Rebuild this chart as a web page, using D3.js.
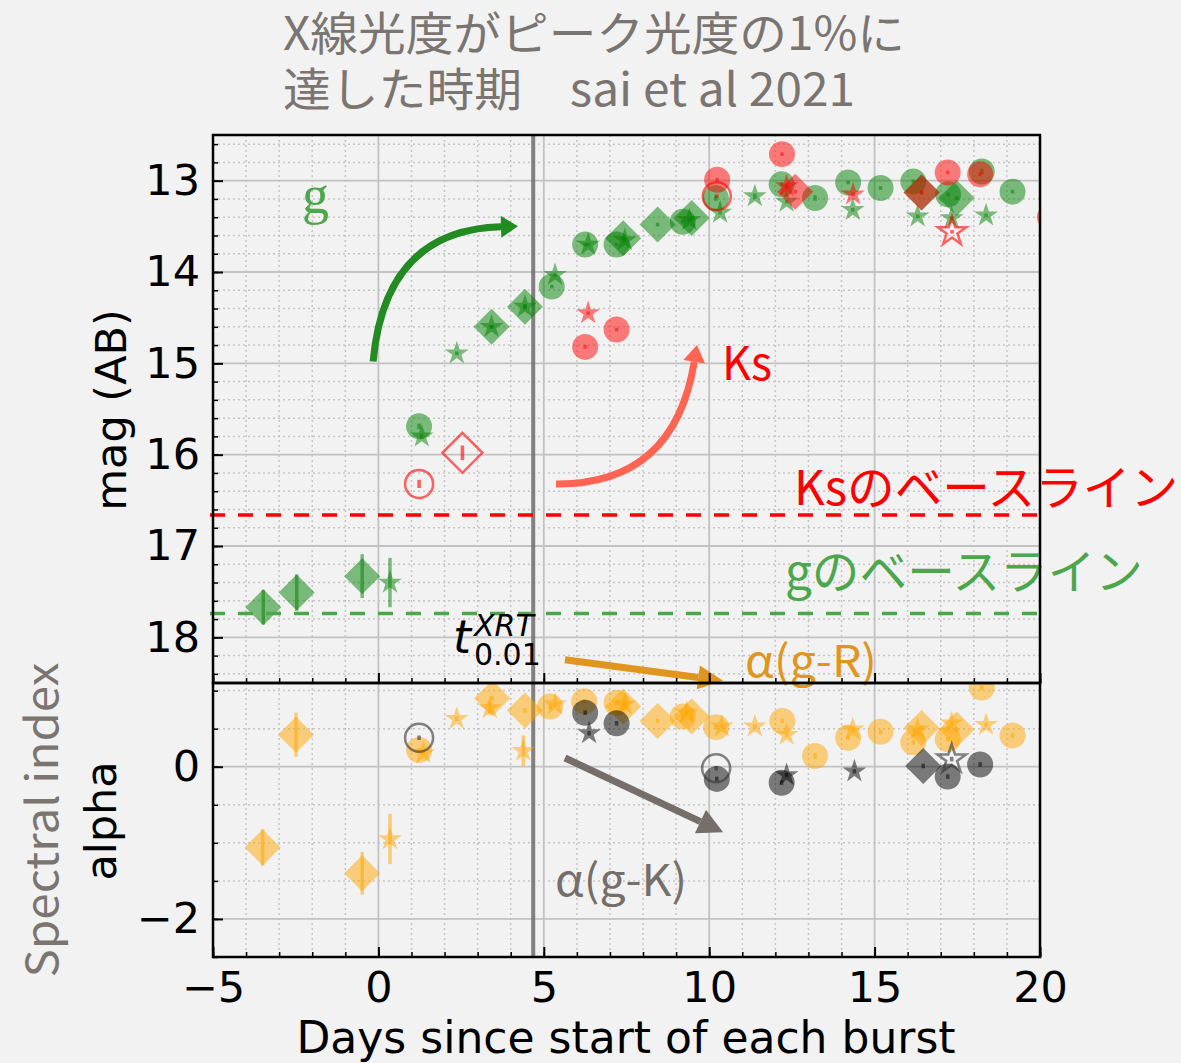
<!DOCTYPE html>
<html>
<head>
<meta charset="utf-8">
<script src="https://cdn.jsdelivr.net/npm/d3@7"></script>
<style>
  body { margin: 0; background: #f2f2f2; }
  svg { display: block; }
</style>
</head>
<body>
<svg id="chart" width="1181" height="1063"></svg>
<script>
// ---- data: [day, value, error] ----
// top panel: magnitudes (AB)
const gCircle = [[1.23, 15.69, 0.03], [5.24, 14.16, 0.02], [6.25, 13.70, 0.02], [7.2, 13.70, 0.02], [9.2, 13.45, 0.02],
  [10.2, 13.19, 0.03], [12.19, 13.04, 0.02], [13.2, 13.19, 0.03], [14.2, 13.02, 0.02], [15.18, 13.08, 0.02],
  [16.17, 13.01, 0.02], [17.22, 13.15, 0.02], [18.24, 12.90, 0.03], [19.17, 13.12, 0.02]];
const gStar = [[0.35, 17.40, 0.27], [1.31, 15.80, 0.03], [2.37, 14.89, 0.02], [3.42, 14.60, 0.02], [4.43, 14.38, 0.03],
  [5.34, 14.03, 0.02], [6.34, 13.70, 0.02], [7.45, 13.65, 0.02], [9.4, 13.43, 0.02], [10.33, 13.35, 0.02],
  [11.38, 13.17, 0.03], [12.34, 13.23, 0.02], [14.34, 13.32, 0.02], [16.3, 13.39, 0.02], [17.33, 13.41, 0.02],
  [18.37, 13.38, 0.02]];
const gDiamond = [[-3.48, 17.67, 0.19], [-2.47, 17.51, 0.20], [-0.49, 17.33, 0.24], [3.42, 14.60, 0.02],
  [4.43, 14.38, 0.02], [7.4, 13.63, 0.02], [8.44, 13.48, 0.02], [9.47, 13.41, 0.02], [16.42, 13.13, 0.02],
  [17.48, 13.19, 0.02]];
const ksCircle = [[6.25, 14.82, 0.02], [7.2, 14.63, 0.02], [10.24, 12.99, 0.02], [12.2, 12.71, 0.02],
  [17.21, 12.91, 0.02], [18.19, 12.93, 0.02], [20.3, 13.40, 0.02]];
const ksStar = [[6.34, 14.45, 0.02], [12.34, 13.06, 0.03], [14.35, 13.15, 0.02]];
const ksDiamond = [[12.6, 13.12, 0.02], [16.42, 13.13, 0.02]];
const ksCircleOpen = [[1.23, 16.32, 0.045], [10.23, 13.17, 0.02]];
const ksDiamondOpen = [[2.54, 15.98, 0.08]];
const ksStarOpen = [[17.34, 13.56, 0.02]];
const gBaseline = 17.74;
const ksBaseline = 16.66;
const tXrt = 4.68;

// bottom panel: spectral index alpha
const grCircle = [[1.23, 0.22, 0.03], [5.19, 0.79, 0.03], [6.22, 0.86, 0.03], [7.2, 0.84, 0.03], [9.2, 0.66, 0.03],
  [10.21, 0.52, 0.03], [12.21, 0.60, 0.03], [13.2, 0.14, 0.04], [14.2, 0.38, 0.03], [15.18, 0.46, 0.03],
  [16.17, 0.32, 0.03], [17.21, 0.36, 0.03], [18.24, 1.04, 0.03], [19.17, 0.41, 0.03]];
const grStar = [[0.35, -0.95, 0.33], [1.36, 0.18, 0.03], [2.37, 0.63, 0.03], [3.37, 0.77, 0.08], [4.38, 0.21, 0.2],
  [5.34, 0.82, 0.03], [7.45, 0.82, 0.03], [9.32, 0.71, 0.03], [10.38, 0.53, 0.03], [11.38, 0.53, 0.03],
  [12.34, 0.42, 0.03], [14.34, 0.49, 0.03], [16.3, 0.49, 0.03], [17.33, 0.57, 0.03], [18.37, 0.55, 0.03]];
const grDiamond = [[-3.5, -1.06, 0.24], [-2.49, 0.42, 0.29], [-0.49, -1.40, 0.28], [3.44, 0.90, 0.03],
  [4.43, 0.74, 0.03], [7.4, 0.79, 0.03], [8.44, 0.60, 0.03], [9.47, 0.66, 0.03], [16.42, 0.51, 0.03],
  [17.48, 0.49, 0.03]];
const gkCircle = [[6.25, 0.71, 0.03], [7.2, 0.57, 0.03], [10.23, -0.16, 0.03], [12.19, -0.21, 0.03],
  [17.21, -0.13, 0.03], [18.19, 0.03, 0.03]];
const gkStar = [[6.37, 0.44, 0.03], [12.34, -0.11, 0.03], [14.39, -0.06, 0.03]];
const gkDiamond = [[16.47, 0.01, 0.03]];
const gkCircleOpen = [[1.23, 0.38, 0.03], [10.21, -0.02, 0.03]];
const gkStarOpen = [[17.33, 0.10, 0.03]];

const xTicks = [-5, 0, 5, 10, 15, 20];
const magTicks = [13, 14, 15, 16, 17, 18];
const alphaTicks = [-2, 0];

// ---- layout ----
const svg = d3.select("#chart");
const pLeft = 213, pRight = 1040, pTop = 135, pMid = 683, pBottom = 957;

const x = d3.scaleLinear().domain([-5, 20]).range([pLeft, pRight]);
const yMag = d3.scaleLinear().domain([12.5, 18.5]).range([pTop, pMid]);
const yAlpha = d3.scaleLinear().domain([-2.5, 1.1]).range([pBottom, pMid]);

svg.append("rect").attr("width", 1181).attr("height", 1063).attr("fill", "#f2f2f2");

const defs = svg.append("defs");
defs.append("clipPath").attr("id", "clipTop").append("rect")
  .attr("x", pLeft).attr("y", pTop).attr("width", pRight - pLeft).attr("height", pMid - pTop);
defs.append("clipPath").attr("id", "clipBot").append("rect")
  .attr("x", pLeft).attr("y", pMid).attr("width", pRight - pLeft).attr("height", pBottom - pMid);

const stepRange = (a, b, s) => d3.range(Math.round(a / s), Math.round(b / s) + 1).map(i => +(i * s).toFixed(3));
const xMinor = stepRange(-5, 20, 1);
const magMinor = stepRange(12.6, 18.4, 0.2);
const alphaMinor = stepRange(-2.5, 1.0, 0.5);

// grid lines for one panel
function drawGrid(yScale, yMajor, yMinor, y0, y1) {
  const g = svg.append("g");
  const vLines = (vals, cls) => g.selectAll("." + cls).data(vals).enter().append("line").attr("class", cls)
    .attr("x1", d => x(d)).attr("x2", d => x(d)).attr("y1", y0).attr("y2", y1);
  const hLines = (vals, cls) => g.selectAll("." + cls).data(vals).enter().append("line").attr("class", cls)
    .attr("x1", pLeft).attr("x2", pRight).attr("y1", d => yScale(d)).attr("y2", d => yScale(d));
  const dotted = sel => sel.attr("stroke", "#c6c6c6").attr("stroke-width", 1.5).attr("stroke-dasharray", "2,3");
  const solid = sel => sel.attr("stroke", "#c2c2c2").attr("stroke-width", 1.8);
  dotted(vLines(xMinor.filter(d => !xTicks.includes(d)), "vmin"));
  dotted(hLines(yMinor.filter(d => !yMajor.includes(d)), "hmin"));
  solid(vLines(xTicks.slice(1, -1), "vmaj"));
  solid(hLines(yMajor, "hmaj"));
}
drawGrid(yMag, magTicks, magMinor, pTop, pMid);
drawGrid(yAlpha, alphaTicks, alphaMinor, pMid, pBottom);

// t_0.01 vertical line across both panels
svg.append("line")
  .attr("x1", x(tXrt)).attr("x2", x(tXrt)).attr("y1", pTop).attr("y2", pBottom)
  .attr("stroke", "#6e6e6e").attr("stroke-width", 4).attr("opacity", 0.85);

// marker shapes
function starPath(r) {
  const pts = d3.range(10).map(i => {
    const a = -Math.PI / 2 + i * Math.PI / 5;
    const rr = i % 2 ? r * 0.382 : r;
    return [rr * Math.cos(a), rr * Math.sin(a)];
  });
  return "M" + pts.map(p => p.join(",")).join("L") + "Z";
}
const diamondPath = h => `M0,${-h}L${h},0L0,${h}L${-h},0Z`;
const circlePath = r => `M${r},0A${r},${r} 0 1,1 ${-r},0A${r},${r} 0 1,1 ${r},0Z`;

function drawSeries(layer, data, yScale, shape, color, hollow) {
  const g = layer.append("g");
  g.selectAll(".err").data(data).enter().append("line")
    .attr("x1", d => x(d[0])).attr("x2", d => x(d[0]))
    .attr("y1", d => yScale(d[1] - d[2])).attr("y2", d => yScale(d[1] + d[2]))
    .attr("stroke", color).attr("stroke-width", 3.5).attr("opacity", hollow ? 0.6 : 0.5);
  let path;
  if (shape === "circle") path = hollow ? circlePath(14) : circlePath(13);
  else if (shape === "star") path = hollow ? starPath(15) : starPath(12.5);
  else path = hollow ? diamondPath(20) : diamondPath(18);
  g.selectAll(".mk").data(data).enter().append("path")
    .attr("transform", d => `translate(${x(d[0])},${yScale(d[1])})`)
    .attr("d", path)
    .attr("fill", hollow ? "none" : color)
    .attr("fill-opacity", 0.5)
    .attr("stroke", color)
    .attr("stroke-opacity", hollow ? 0.6 : 0)
    .attr("stroke-width", hollow ? 2.5 : 0);
}

const topLayer = svg.append("g").attr("clip-path", "url(#clipTop)");
const botLayer = svg.append("g").attr("clip-path", "url(#clipBot)");

const GREEN = "#008000", RED = "#ff0000", ORANGE = "#ffa500", BLACK = "#000000";
drawSeries(topLayer, gDiamond, yMag, "diamond", GREEN);
drawSeries(topLayer, gCircle, yMag, "circle", GREEN);
drawSeries(topLayer, gStar, yMag, "star", GREEN);
drawSeries(topLayer, ksCircle, yMag, "circle", RED);
drawSeries(topLayer, ksDiamond, yMag, "diamond", RED);
drawSeries(topLayer, ksStar, yMag, "star", RED);
drawSeries(topLayer, ksCircleOpen, yMag, "circle", RED, true);
drawSeries(topLayer, ksDiamondOpen, yMag, "diamond", RED, true);
drawSeries(topLayer, ksStarOpen, yMag, "star", RED, true);

drawSeries(botLayer, grDiamond, yAlpha, "diamond", ORANGE);
drawSeries(botLayer, grCircle, yAlpha, "circle", ORANGE);
drawSeries(botLayer, grStar, yAlpha, "star", ORANGE);
drawSeries(botLayer, gkCircle, yAlpha, "circle", BLACK);
drawSeries(botLayer, gkDiamond, yAlpha, "diamond", BLACK);
drawSeries(botLayer, gkStar, yAlpha, "star", BLACK);
drawSeries(botLayer, gkCircleOpen, yAlpha, "circle", "#333", true);
drawSeries(botLayer, gkStarOpen, yAlpha, "star", "#333", true);

// baselines
[[ksBaseline, RED], [gBaseline, "#4ca64c"]].forEach(([v, c]) => {
  svg.append("line").attr("x1", pLeft - 3).attr("x2", pRight).attr("y1", yMag(v)).attr("y2", yMag(v))
    .attr("stroke", c).attr("stroke-width", 3.5).attr("stroke-dasharray", "15,13");
});

// annotation arrows (data coords)
function arrow(p0, c, p1, yScale, color, width, headLen, headW) {
  const P = p => [x(p[0]), yScale(p[1])];
  const a = P(p0), b = P(p1);
  const ctrl = c ? P(c) : null;
  const dirFrom = ctrl || a;
  const ang = Math.atan2(b[1] - dirFrom[1], b[0] - dirFrom[0]);
  const base = [b[0] - headLen * Math.cos(ang), b[1] - headLen * Math.sin(ang)];
  const d = ctrl ? `M${a}Q${ctrl} ${base}` : `M${a}L${base}`;
  svg.append("path").attr("d", d).attr("fill", "none").attr("stroke", color).attr("stroke-width", width);
  const nx = -Math.sin(ang), ny = Math.cos(ang);
  svg.append("path")
    .attr("d", `M${b}L${base[0] + nx * headW / 2},${base[1] + ny * headW / 2}L${base[0] - nx * headW / 2},${base[1] - ny * headW / 2}Z`)
    .attr("fill", color);
}
arrow([-0.16, 14.98], [0.2, 13.54], [4.22, 13.50], yMag, "#228b22", 7, 17, 22);
arrow([5.37, 16.32], [8.94, 16.33], [9.63, 14.80], yMag, "#ff6352", 7, 17, 22);
arrow([5.64, 18.245], null, [10.42, 18.475], yMag, "#e0951f", 7, 25, 24);
arrow([5.64, 0.115], null, [10.42, -0.86], yAlpha, "#766e6a", 7, 25, 26);

// texts
const JP = "'Noto Sans CJK JP', 'Noto Sans', sans-serif";
const DV = "'DejaVu Sans', sans-serif";
function label(xp, yp, txt, size, color, font, len) {
  const t = svg.append("text").attr("x", xp).attr("y", yp).text(txt)
    .attr("font-size", size).attr("fill", color).attr("font-family", font);
  if (len) t.attr("textLength", len).attr("lengthAdjust", "spacingAndGlyphs");
  return t;
}
label(283, 50, "X線光度がピーク光度の1%に", 46, "#7b7571", JP, 622);
label(283, 106, "達した時期　sai et al 2021", 46, "#7b7571", JP, 572);
label(302, 213, "g", 54, "#4ca64c", "'Liberation Serif', serif");
label(722, 380, "Ks", 46, RED, JP, 50);
label(794, 505, "Ksのベースライン", 48, RED, JP, 384);
label(785, 589, "gのベースライン", 48, "#4ca64c", JP, 358);
label(745, 677, "α(g-R)", 44, "#e0951f", JP, 132);
label(555, 896, "α(g-K)", 44, "#766e6a", JP, 132);

// t_{0.01}^{XRT}
label(453, 653, "t", 46, "#000", DV).attr("font-style", "italic");
label(474, 636, "XRT", 30, "#000", DV).attr("font-style", "italic");
label(474, 665, "0.01", 30, "#000", DV);

// axes
function styleAxis(g) {
  g.select(".domain").remove();
  g.selectAll(".tick line").attr("stroke", "#000").attr("stroke-width", 2);
  g.selectAll(".tick text").attr("font-family", DV).attr("font-size", 43).attr("fill", "#000");
}
function minorAxis(axis, tr) {
  svg.append("g").attr("transform", tr).call(axis.tickSize(-5).tickFormat(""))
    .call(styleAxis).selectAll(".tick line").attr("stroke-width", 1.5);
}
// top panel
svg.append("g").attr("transform", `translate(${pLeft},0)`)
  .call(d3.axisLeft(yMag).tickValues(magTicks).tickSize(-10).tickPadding(13).tickFormat(d3.format("d")))
  .call(styleAxis);
minorAxis(d3.axisLeft(yMag).tickValues(magMinor), `translate(${pLeft},0)`);
svg.append("g").attr("transform", `translate(0,${pMid})`)
  .call(d3.axisBottom(x).tickValues(xTicks).tickSize(-10).tickFormat(""))
  .call(styleAxis);
minorAxis(d3.axisBottom(x).tickValues(xMinor), `translate(0,${pMid})`);
// bottom panel
svg.append("g").attr("transform", `translate(${pLeft},0)`)
  .call(d3.axisLeft(yAlpha).tickValues(alphaTicks).tickSize(-10).tickPadding(13).tickFormat(d3.format("d")))
  .call(styleAxis);
minorAxis(d3.axisLeft(yAlpha).tickValues(alphaMinor), `translate(${pLeft},0)`);
svg.append("g").attr("transform", `translate(0,${pBottom})`)
  .call(d3.axisBottom(x).tickValues(xTicks).tickSize(-10).tickPadding(14).tickFormat(d3.format("d")))
  .call(styleAxis);
minorAxis(d3.axisBottom(x).tickValues(xMinor), `translate(0,${pBottom})`);

// frames
[[pTop, pMid], [pMid, pBottom]].forEach(([a, b]) => {
  svg.append("rect").attr("x", pLeft).attr("y", a).attr("width", pRight - pLeft).attr("height", b - a)
    .attr("fill", "none").attr("stroke", "#000").attr("stroke-width", 2.5);
});

// axis titles
label(626, 1053, "Days since start of each burst", 44, "#000", DV).attr("text-anchor", "middle");
label(0, 0, "mag (AB)", 43, "#000", DV).attr("text-anchor", "middle")
  .attr("transform", "translate(126,410) rotate(-90)");
label(0, 0, "alpha", 43, "#000", DV).attr("text-anchor", "middle")
  .attr("transform", "translate(116,821) rotate(-90)");
label(0, 0, "Spectral index", 44, "#7b7571", JP, 315).attr("text-anchor", "middle")
  .attr("transform", "translate(58,820) rotate(-90)");
</script>
</body>
</html>
